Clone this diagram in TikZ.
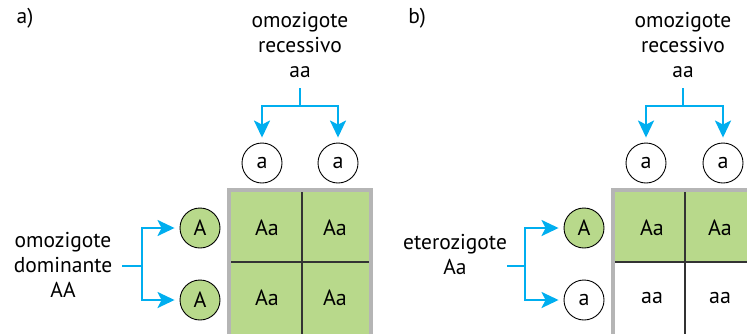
\documentclass[tikz,border=0pt]{standalone}
\usepackage{fontspec}
\setmainfont{PT Sans}
\usetikzlibrary{arrows.meta}
\definecolor{cyanb}{HTML}{00AEEF}
\definecolor{cellg}{HTML}{B8D98B}
\definecolor{bordg}{HTML}{B5B5B5}
\definecolor{divg}{HTML}{333333}
\tikzset{
  lab/.style={font=\fontsize{21.5}{25}\selectfont, align=center, inner sep=0pt},
  allele/.style={circle, draw=black, line width=0.9pt, minimum size=40pt, inner sep=0pt, font=\fontsize{22}{24}\selectfont},
  dom/.style={allele, fill=cellg},
  conn/.style={draw=cyanb, line width=2.3pt},
  arr/.style={conn, -{Stealth[length=17pt,width=16pt,inset=4pt]}, shorten >=5pt},
  celltxt/.style={font=\fontsize{22}{24}\selectfont, inner sep=0pt},
  border/.style={draw=bordg, line width=4pt},
  divider/.style={draw=divg, line width=1.1pt},
}
\begin{document}
\begin{tikzpicture}[x=1pt,y=-1pt]
\useasboundingbox (0,0) rectangle (747,333);
% ---------------- a)
\node[lab] (la) at (25,18) {a)};
\node[lab] (reca) at (300,45) {omozigote\\recessivo\\aa};
\node[lab] (doma) at (63,265) {omozigote\\dominante\\AA};
\node[allele] (a1) at (262,163) {a};
\node[allele] (a2) at (338,163) {a};
\node[dom] (A1) at (200,228) {A};
\node[dom] (A2) at (200,300) {A};
% grid a
\fill[cellg] (229,190) rectangle (371,345);
\draw[divider] (302,190) -- (302,345);
\draw[divider] (229,262) -- (371,262);
\draw[border] (229,190) rectangle (371,345);
\node[celltxt] (ca11) at (267,228) {Aa};
\node[celltxt] (ca12) at (335,228) {Aa};
\node[celltxt] (ca21) at (267,298) {Aa};
\node[celltxt] (ca22) at (335,298) {Aa};
% connectors a
\coordinate (sa) at (300,88);
\coordinate (ja) at (300,106);
\draw[conn] (sa) -- (ja);
\draw[arr] (ja) -| (a1);
\draw[arr] (ja) -| (a2);
\coordinate (ha) at (122,266);
\coordinate (va) at (142,266);
\draw[conn] (ha) -- (va);
\draw[arr] (va) |- (A1);
\draw[arr] (va) |- (A2);
% ---------------- b)
\node[lab] (lb) at (417,18) {b)};
\node[lab] (recb) at (683,45) {omozigote\\recessivo\\aa};
\node[lab] (etb) at (455,254) {eterozigote\\Aa};
\node[allele] (b1) at (646,163) {a};
\node[allele] (b2) at (723,163) {a};
\node[dom] (B1) at (584,228) {A};
\node[allele] (B2) at (584,300) {a};
% grid b
\fill[cellg] (613,190) rectangle (760,262);
\fill[white] (613,262) rectangle (760,345);
\draw[divider] (685,190) -- (685,345);
\draw[divider] (613,262) -- (760,262);
\draw[border] (613,190) rectangle (760,345);
\node[celltxt] (cb11) at (652,228) {Aa};
\node[celltxt] (cb12) at (720,228) {Aa};
\node[celltxt] (cb21) at (652,298) {aa};
\node[celltxt] (cb22) at (720,298) {aa};
% connectors b
\coordinate (sb) at (683,88);
\coordinate (jb) at (683,106);
\draw[conn] (sb) -- (jb);
\draw[arr] (jb) -| (b1);
\draw[arr] (jb) -| (b2);
\coordinate (hb) at (507,266);
\coordinate (vb) at (525,266);
\draw[conn] (hb) -- (vb);
\draw[arr] (vb) |- (B1);
\draw[arr] (vb) |- (B2);
\end{tikzpicture}
\end{document}
